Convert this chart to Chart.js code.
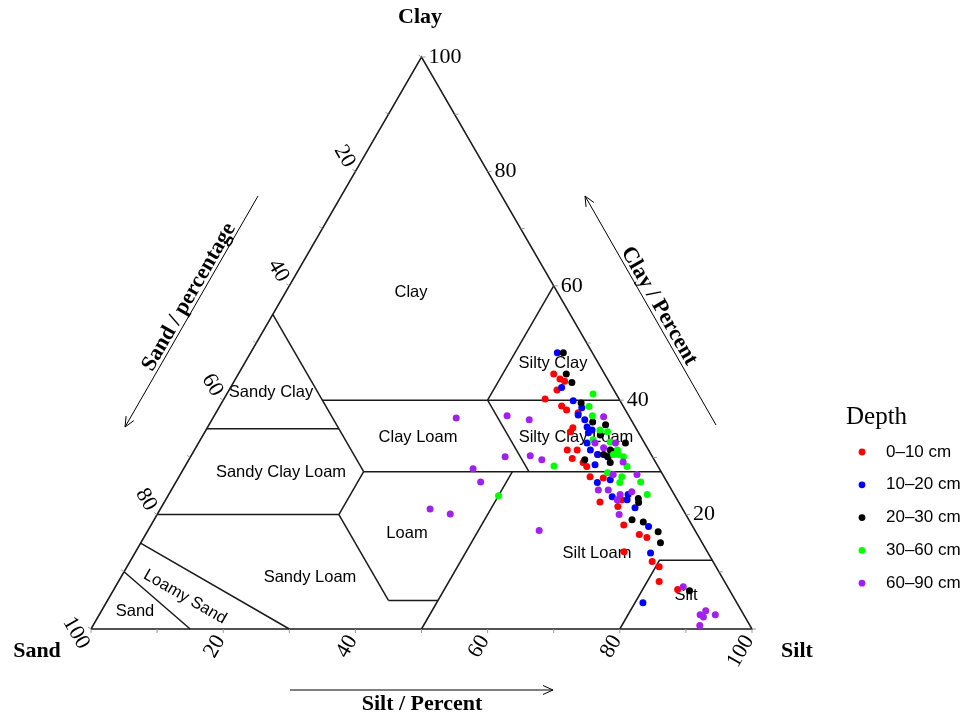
<!DOCTYPE html>
<html><head><meta charset="utf-8">
<script src="https://cdn.jsdelivr.net/npm/chart.js@4.4.1/dist/chart.umd.min.js"></script>
<style>html,body{margin:0;padding:0;background:#fff;}canvas{display:block;}</style>
</head><body>
<canvas id="c" width="968" height="717"></canvas>
<script>
// Soil samples as [clay %, silt %]; sand % = 100 - clay - silt
const depthLabels = ['0–10 cm', '10–20 cm', '20–30 cm', '30–60 cm', '60–90 cm'];
const depthColors = ['#ff0000', '#0000ff', '#000000', '#00ff00', '#a020f0'];

const depth0_10 = [[44.6,47.7],[43.7,49.1],[43.3,50.0],[41.8,49.6],[40.2,48.6],[39.0,51.7],[38.3,52.8],[37.8,54.8],[35.2,55.3],[34.5,55.3],[31.3,56.4],[31.3,57.9],[30.5,61.4],[29.8,57.9],[29.1,59.9],[28.4,60.8],[26.6,62.2],[26.4,64.3],[22.2,65.9],[22.6,69.0],[21.4,69.0],[18.2,71.5],[16.5,74.7],[16.0,76.1],[13.5,73.9],[11.8,79.0],[10.9,80.5],[8.3,81.8],[6.9,85.3]];
const depth10_20 = [[48.3,46.4],[42.2,50.1],[39.9,53.0],[38.7,54.9],[37.4,55.0],[36.6,56.4],[35.3,57.4],[34.8,58.4],[34.3,58.1],[32.5,58.8],[31.3,59.9],[30.5,61.4],[30.1,63.1],[28.7,61.9],[25.6,63.8],[26.1,65.5],[23.5,69.5],[22.6,69.8],[23.1,67.3],[21.2,71.7],[17.9,75.4],[13.3,78.0],[4.6,81.2]];
const depth20_30 = [[48.3,47.3],[44.6,49.6],[43.1,51.2],[39.5,54.4],[36.2,57.8],[35.7,60.0],[33.9,60.1],[32.5,64.6],[31.3,62.9],[30.1,63.2],[29.6,59.9],[30.5,62.3],[29.1,64.0],[31.0,63.5],[22.8,71.4],[22.1,71.8],[19.1,72.3],[18.7,74.2],[17.0,77.3],[15.1,78.6],[6.7,87.2]];
const depth30_60 = [[41.1,55.4],[38.9,55.9],[37.3,57.2],[34.8,59.6],[33.1,59.4],[34.5,60.9],[32.7,62.2],[31.3,64.0],[30.5,64.5],[30.5,63.8],[30.1,65.5],[28.4,66.9],[27.3,64.5],[26.6,67.0],[25.7,70.3],[25.6,67.2],[23.5,72.4],[28.5,55.8],[23.3,50.0]];
const depth60_90 = [[37.1,59.0],[32.5,63.1],[31.7,61.7],[32.5,60.0],[29.2,65.9],[27.0,65.5],[27.0,69.1],[24.3,64.6],[24.3,66.1],[23.5,68.3],[24.0,69.8],[22.6,68.3],[20.0,69.9],[7.4,85.9],[3.2,91.4],[2.5,90.9],[2.1,91.6],[2.5,93.2],[0.6,91.8],[36.9,36.8],[37.3,44.3],[36.6,48.0],[30.1,47.6],[30.3,51.3],[29.6,53.4],[28.0,43.8],[25.7,46.1],[21.0,40.8],[20.1,44.3],[17.2,59.2]];
const depthSeries = [depth0_10, depth10_20, depth20_30, depth30_60, depth60_90];

// Texture class boundaries, polylines of [silt %, clay %]
const classBoundaries = [
  [[0,0],[100,0],[0,100],[0,0]],
  [[0,55],[27.5,27.5]],
  [[27.5,27.5],[27.5,20]],
  [[27.5,20],[42.5,5]],
  [[42.5,5],[50,5]],
  [[50,27.5],[50,0]],
  [[15,40],[60,40]],
  [[40,40],[40,60]],
  [[40,40],[52.5,27.5]],
  [[27.5,27.5],[72.5,27.5]],
  [[0,35],[20,35]],
  [[0,20],[27.5,20]],
  [[0,15],[30,0]],
  [[0,10],[15,0]],
  [[80,0],[80,12],[88,12]]
];
const tickValues = [20, 40, 60, 80, 100];
const classNames = ['Clay','Silty Clay','Sandy Clay','Clay Loam','Silty Clay Loam','Sandy Clay Loam','Loam','Silt Loam','Sandy Loam','Loamy Sand','Sand','Silt'];

const H = Math.sqrt(3) / 2;
function tern(silt, clay) { return { x: silt + clay / 2, y: clay * H }; }

const datasets = [];
depthSeries.forEach((s, i) => {
  datasets.push({
    label: depthLabels[i],
    data: s.map(p => tern(p[1], p[0])),
    backgroundColor: depthColors[i], borderColor: depthColors[i],
    pointRadius: 3.5, pointBorderWidth: 0, pointHoverRadius: 3.5,
    showLine: false, clip: false, order: 5 - i
  });
});
classBoundaries.forEach(b => {
  datasets.push({
    label: 'b', data: b.map(p => tern(p[0], p[1])),
    showLine: true, pointRadius: 0, borderColor: '#1a1a1a', borderWidth: 1.5,
    fill: false, tension: 0, clip: false, order: 20
  });
});

// Label layout (canvas px)
const classLabelPos = {
  'Clay':[411,292,0],'Silty Clay':[553,363,0],'Sandy Clay':[271,392,0],'Clay Loam':[418,437,0],
  'Silty Clay Loam':[576,437,0],'Sandy Clay Loam':[281,472,0],'Loam':[407,533,0],'Silt Loam':[597,553,0],
  'Sandy Loam':[310,577,0],'Loamy Sand':[185,597,30],'Sand':[135,611,0],'Silt':[686,595,0]
};

function text(ctx, s, x, y, font, align, base, deg, color) {
  ctx.save(); ctx.translate(x, y); ctx.rotate((deg || 0) * Math.PI / 180);
  ctx.font = font; ctx.textAlign = align || 'center'; ctx.textBaseline = base || 'middle';
  ctx.fillStyle = color || '#000'; ctx.fillText(s, 0, 0); ctx.restore();
}
function arrow(ctx, x1, y1, x2, y2) {
  ctx.save(); ctx.strokeStyle = '#000'; ctx.lineWidth = 1;
  ctx.beginPath(); ctx.moveTo(x1, y1); ctx.lineTo(x2, y2); ctx.stroke();
  const a = Math.atan2(y2 - y1, x2 - x1), L = 11, w = 0.42;
  ctx.beginPath();
  ctx.moveTo(x2 - L * Math.cos(a - w), y2 - L * Math.sin(a - w));
  ctx.lineTo(x2, y2);
  ctx.lineTo(x2 - L * Math.cos(a + w), y2 - L * Math.sin(a + w));
  ctx.stroke(); ctx.restore();
}

const deco = {
  id: 'deco',
  beforeDatasetsDraw(chart) {
    const ctx = chart.ctx;
    classNames.forEach(n => {
      const p = classLabelPos[n];
      text(ctx, n, p[0], p[1], '16.5px "Liberation Sans", Arial, sans-serif', 'center', 'middle', p[2]);
    });
  },
  afterDatasetsDraw(chart) {
    const ctx = chart.ctx, sx = chart.scales.x, sy = chart.scales.y;
    const P = (silt, clay) => { const t = tern(silt, clay); return [sx.getPixelForValue(t.x), sy.getPixelForValue(t.y)]; };
    const numFont = '22px "Liberation Serif", "Times New Roman", serif';
    // minor tick marks
    ctx.save(); ctx.strokeStyle = '#9a9a9a'; ctx.lineWidth = 1;
    for (let v = 0; v <= 100; v += 10) {
      let [x, y] = P(v, 0); ctx.beginPath(); ctx.moveTo(x, y); ctx.lineTo(x, y + 4); ctx.stroke();
      [x, y] = P(100 - v, v); ctx.beginPath(); ctx.moveTo(x, y); ctx.lineTo(x + 4, y); ctx.stroke();
      [x, y] = P(0, v); ctx.beginPath(); ctx.moveTo(x, y); ctx.lineTo(x - 3, y - 2); ctx.stroke();
    }
    ctx.restore();
    tickValues.forEach(v => {
      let [x, y] = P(100 - v, v);
      text(ctx, String(v), x + 7, y, numFont, 'left', 'middle', 0);
      [x, y] = P(v, 0);
      text(ctx, String(v), x - 3, y + 8, numFont, 'right', 'middle', -60);
      [x, y] = P(0, 100 - v);
      if (v === 100) text(ctx, String(v), x - 15, y + 4, numFont, 'center', 'middle', 60);
      else text(ctx, String(v), x - 11, y - 15, numFont, 'center', 'middle', 60);
    });
    const bold = 'bold 22px "Liberation Serif", "Times New Roman", serif';
    text(ctx, 'Clay', 420, 17, bold);
    text(ctx, 'Sand', 37, 651, bold);
    text(ctx, 'Silt', 797, 651, bold);
    text(ctx, 'Silt / Percent', 422, 704, bold);
    arrow(ctx, 290, 690, 553, 690);
    text(ctx, 'Sand / percentage', 189, 297, bold, 'center', 'middle', -60);
    arrow(ctx, 258, 196, 125, 427);
    text(ctx, 'Clay / Percent', 659, 306, bold, 'center', 'middle', 60);
    arrow(ctx, 716, 425, 585, 196);
    // legend
    text(ctx, 'Depth', 846, 417, '25px "Liberation Serif", "Times New Roman", serif', 'left', 'middle');
    depthLabels.forEach((l, i) => {
      const y = 452 + i * 32.8;
      ctx.save(); ctx.fillStyle = depthColors[i]; ctx.beginPath(); ctx.arc(862, y, 3.4, 0, Math.PI * 2); ctx.fill(); ctx.restore();
      text(ctx, l, 886, y, '17px "Liberation Sans", Arial, sans-serif', 'left', 'middle');
    });
  }
};

new Chart(document.getElementById('c'), {
  type: 'scatter',
  data: { datasets },
  options: {
    responsive: false, animation: false, events: [],
    layout: { padding: { left: 91, right: 216, top: 57, bottom: 88 } },
    scales: {
      x: { type: 'linear', min: 0, max: 100, display: false },
      y: { type: 'linear', min: 0, max: 100 * H, display: false }
    },
    plugins: { legend: { display: false }, tooltip: { enabled: false } }
  },
  plugins: [deco]
});
</script>
</body></html>
